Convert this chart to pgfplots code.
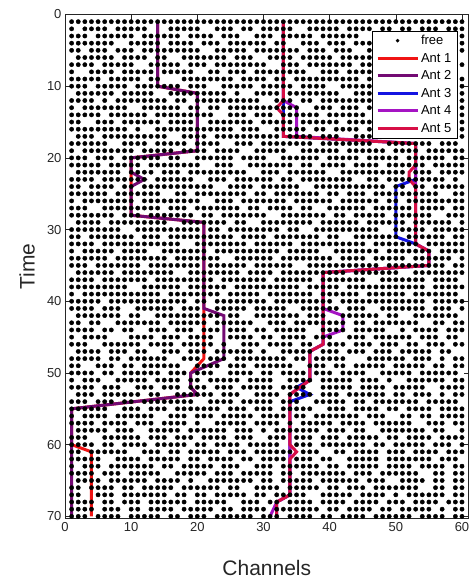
\documentclass[border=0pt]{standalone}
\usepackage{pgfplots}
\usepackage{pgfplotstable}
\pgfplotsset{compat=1.18}
\usepackage{fontspec}
\setmainfont{Liberation Sans}
\definecolor{axgray}{rgb}{0.15,0.15,0.15}
\definecolor{antA}{RGB}{240,20,20}
\definecolor{antB}{RGB}{115,10,115}
\definecolor{antC}{RGB}{20,20,225}
\definecolor{antD}{RGB}{165,20,195}
\definecolor{antE}{RGB}{215,15,70}
\pgfplotstableread{
t c1 c2 c3 c4 c5 c6 c7 c8 c9 c10 c11 c12 c13 c14 c15 c16 c17 c18 c19 c20 c21 c22 c23 c24 c25 c26 c27 c28 c29 c30 c31 c32 c33 c34 c35 c36 c37 c38 c39 c40 c41 c42 c43 c44 c45 c46 c47 c48 c49 c50 c51 c52 c53 c54 c55 c56 c57 c58 c59 c60
1 1 1 1 1 1 1 1 1 1 1 1 1 1 1 1 1 1 1 1 1 1 1 1 1 1 1 1 1 1 1 1 1 1 1 1 1 1 1 1 1 1 1 1 1 1 1 1 1 1 1 1 1 1 1 1 1 1 1 1 1
2 1 0 1 1 1 1 0 1 1 1 1 1 0 0 0 1 1 1 1 1 0 0 1 1 1 0 1 1 0 1 1 1 1 1 0 0 1 1 1 1 1 0 1 1 1 1 0 1 1 0 1 1 0 1 1 1 0 1 1 1
3 1 1 1 0 1 1 1 1 1 1 0 1 1 1 1 1 1 0 1 1 1 1 0 1 1 1 0 0 1 1 1 0 1 1 1 1 1 0 1 1 1 1 1 1 0 0 1 1 0 1 1 1 1 0 1 1 1 0 1 1
4 1 1 1 1 1 1 1 0 0 1 1 1 1 1 0 1 1 1 1 0 1 1 1 0 1 1 1 1 1 1 0 1 1 0 0 1 1 1 0 1 1 1 0 1 1 1 1 1 1 1 0 0 1 1 1 1 1 1 0 1
5 1 1 0 1 1 1 0 1 1 1 0 1 1 1 1 1 1 1 1 1 0 0 1 1 1 1 1 0 1 1 1 1 1 1 1 0 1 1 1 0 1 1 1 0 0 1 1 1 1 1 1 0 1 1 1 0 1 1 1 1
6 0 1 1 1 1 1 1 0 1 1 1 1 0 1 1 0 0 1 1 1 1 1 1 1 0 1 1 1 0 0 1 1 1 1 0 1 1 1 1 1 0 1 1 1 1 1 1 0 1 0 0 1 1 1 1 1 1 1 1 0
7 1 1 1 1 0 1 1 1 1 1 0 0 1 1 1 1 1 0 1 1 1 0 1 1 1 1 1 1 1 1 0 0 1 1 1 0 1 1 1 1 1 1 1 0 1 1 1 0 1 1 1 1 1 1 0 1 1 0 1 1
8 1 0 0 1 1 1 1 0 1 1 1 1 1 0 1 1 1 1 1 0 0 1 1 0 1 1 1 0 1 1 1 1 1 1 1 1 0 0 1 1 1 0 1 1 1 1 1 1 1 0 1 1 0 1 1 1 1 1 1 0
9 1 1 1 1 1 0 1 1 1 1 1 0 1 1 0 0 0 1 1 1 1 1 1 1 1 0 1 1 1 1 0 1 1 0 1 1 1 1 1 1 1 1 1 1 0 1 1 0 0 1 1 1 1 1 0 1 1 1 1 1
10 1 1 1 0 1 1 1 1 1 0 1 1 1 1 1 1 1 0 1 1 1 0 0 1 1 1 1 1 0 1 1 1 1 1 0 1 1 1 1 0 0 1 1 1 1 1 1 0 1 1 1 0 1 1 1 1 1 0 0 1
11 0 1 1 1 1 1 1 0 1 1 1 1 1 0 0 1 1 1 1 1 1 1 1 1 0 1 0 0 1 1 1 1 0 1 1 1 1 1 1 1 1 0 0 1 1 1 0 1 1 1 1 1 1 1 1 0 1 1 1 1
12 1 1 1 1 0 1 0 1 1 1 1 1 1 1 1 0 1 1 0 1 1 1 1 1 1 1 1 1 1 0 0 1 1 1 0 1 1 0 1 1 1 1 1 1 1 1 1 0 1 1 1 0 0 1 1 1 1 0 1 1
13 1 0 1 1 1 1 1 1 1 0 0 1 1 1 1 1 1 0 1 1 0 1 1 0 1 1 1 1 1 1 1 1 1 1 1 0 0 1 1 1 0 1 1 1 0 1 1 1 1 1 1 1 1 1 0 1 1 1 1 1
14 1 1 1 1 1 0 1 1 1 1 1 1 0 1 1 1 1 1 1 1 1 1 0 0 1 1 1 0 1 1 1 0 1 1 1 1 1 1 0 1 1 1 1 1 1 0 1 1 0 1 1 1 1 1 1 1 0 1 1 1
15 1 1 0 0 1 1 1 0 1 1 1 1 1 1 0 1 1 1 1 0 0 1 1 1 1 1 1 1 0 1 1 1 1 1 0 1 1 1 1 1 1 0 1 1 1 1 1 1 1 1 0 1 1 0 1 1 1 1 0 1
16 1 1 1 1 1 1 1 1 1 0 1 0 0 1 1 1 1 1 1 1 1 1 1 1 1 0 1 1 1 0 0 1 1 1 1 1 0 1 1 0 1 1 1 1 0 1 1 1 0 0 1 1 1 1 1 1 1 0 1 1
17 0 1 1 1 0 1 1 1 1 1 1 1 1 1 1 0 0 1 1 1 1 0 1 1 1 1 1 1 1 1 1 1 0 1 1 1 1 0 1 1 1 0 0 1 1 1 1 1 1 1 1 1 0 1 0 1 1 1 1 1
18 1 1 1 1 1 1 0 0 1 1 1 1 0 1 1 1 1 1 0 1 1 1 1 0 0 1 1 1 0 1 1 1 1 1 1 1 1 0 1 1 1 1 1 1 1 1 0 0 1 1 1 1 1 1 1 0 1 1 1 0
19 1 0 1 1 1 1 1 1 1 1 0 1 1 1 1 1 0 1 1 1 1 0 1 1 1 1 0 0 1 1 1 1 1 0 0 1 1 1 1 1 1 0 1 1 1 1 1 1 0 1 1 1 1 0 1 1 1 1 1 1
20 1 1 1 0 1 1 1 0 1 1 1 1 1 1 0 1 1 0 0 1 1 1 1 1 1 0 1 1 1 1 0 0 1 1 1 1 1 1 0 1 1 1 1 1 0 1 1 1 1 1 0 1 1 1 1 1 1 0 1 1
21 1 1 1 1 1 0 1 1 1 1 1 0 1 1 1 1 1 1 1 1 0 0 1 1 1 0 0 1 1 1 1 1 1 1 0 1 1 0 1 1 1 1 0 1 1 1 1 0 1 1 1 1 1 1 0 1 1 1 1 1
22 0 1 1 1 1 1 1 1 0 1 1 1 1 0 1 1 1 0 1 1 1 1 1 1 1 1 1 0 0 1 1 1 0 1 1 1 1 1 1 0 0 1 1 1 1 1 1 1 1 1 1 0 1 1 1 0 1 1 1 1
23 1 1 1 1 0 1 1 1 1 1 1 1 0 1 1 1 1 1 1 0 0 1 1 1 0 1 1 1 1 1 1 0 1 1 0 1 1 1 1 1 1 1 1 0 0 1 1 0 1 1 1 1 1 1 1 1 1 0 1 0
24 1 1 0 1 1 1 1 0 1 1 0 1 1 1 1 1 1 1 1 1 1 1 0 0 1 1 1 1 0 1 1 1 1 1 1 0 0 1 1 1 1 1 1 1 1 1 1 1 0 1 1 0 1 1 0 1 1 1 1 1
25 1 1 1 1 1 1 0 1 1 1 1 1 1 1 0 0 1 1 0 1 1 1 1 1 1 1 1 0 1 1 0 1 1 1 1 1 1 1 0 1 1 0 1 1 1 0 1 1 1 1 1 1 1 1 1 1 0 0 1 1
26 1 0 1 1 1 1 1 1 1 1 0 1 1 1 1 1 1 1 1 1 0 0 1 1 1 0 1 1 1 1 1 1 1 0 1 1 1 1 1 1 0 1 1 1 1 1 1 0 1 1 0 1 1 1 1 1 1 1 1 1
27 1 1 1 0 0 1 1 1 1 1 1 1 1 1 0 1 1 1 0 1 1 1 1 1 1 1 0 1 1 0 1 1 1 1 0 1 1 0 0 1 1 1 1 1 1 0 1 1 1 1 1 1 0 1 1 1 1 0 1 1
28 1 1 1 1 1 1 1 0 1 1 1 0 1 1 1 1 1 1 1 0 1 1 0 1 1 1 1 1 1 1 0 0 1 1 1 1 1 1 1 0 1 1 0 1 1 1 1 1 0 1 1 1 1 1 1 0 0 1 1 1
29 0 1 1 1 1 0 1 1 1 1 1 1 1 1 1 0 0 1 1 1 1 1 1 1 0 1 1 0 0 1 1 1 1 1 1 1 1 0 1 1 1 1 1 1 0 1 1 1 1 1 1 0 1 1 1 1 1 1 0 1
30 1 1 1 1 1 1 1 1 0 0 1 1 1 1 1 1 1 1 1 1 0 1 1 0 1 1 1 1 1 1 1 1 0 1 1 0 0 1 1 1 1 1 1 1 1 1 1 0 0 1 1 1 1 1 0 1 1 1 1 1
31 1 1 0 1 1 1 1 1 1 1 0 1 1 1 0 1 1 1 1 1 1 1 1 1 1 0 1 1 1 1 0 1 1 1 1 1 1 1 0 1 1 0 0 1 1 1 1 1 1 1 0 1 1 1 1 1 1 0 1 1
32 1 1 1 1 0 1 1 1 1 1 1 1 1 1 1 1 1 0 0 1 1 1 1 1 1 1 1 0 1 1 1 1 1 1 0 1 1 1 1 1 1 1 1 1 1 0 1 1 1 1 1 1 1 0 1 1 1 1 1 1
33 1 0 1 1 1 1 1 0 1 1 1 1 0 0 1 1 1 1 1 1 1 0 1 1 1 1 1 1 1 1 1 1 0 1 1 1 1 1 0 0 1 1 1 1 1 1 1 0 1 1 1 1 1 1 1 0 1 1 1 1
34 1 1 1 1 1 1 0 1 1 1 1 1 1 1 1 0 1 1 1 1 1 1 1 0 0 1 1 1 1 1 1 0 1 1 1 1 1 1 1 1 0 1 1 1 1 0 1 1 1 1 1 0 1 1 1 1 1 1 0 1
35 1 1 1 0 1 1 1 1 1 1 1 0 1 1 1 1 1 1 1 1 0 1 1 1 1 1 1 0 1 1 1 1 1 1 0 0 1 1 1 1 1 1 1 1 1 1 1 0 1 1 1 1 1 1 1 1 1 0 1 1
36 0 1 1 1 1 1 1 0 1 1 1 1 1 1 1 1 0 0 1 1 1 1 1 1 1 1 0 1 1 1 1 0 1 1 1 1 1 1 1 1 1 1 0 1 1 1 1 1 1 1 0 0 1 1 1 1 1 1 1 1
37 1 1 1 1 0 1 1 1 1 1 1 1 0 1 1 1 1 1 1 1 1 1 0 1 1 1 1 1 1 1 0 1 1 1 1 1 1 0 1 1 1 1 1 1 1 0 0 1 1 1 1 1 1 1 0 1 1 1 1 0
38 1 1 1 1 1 1 1 1 1 0 0 1 1 1 1 1 1 0 1 1 1 1 1 1 0 1 1 1 1 1 1 1 1 1 1 0 1 1 1 1 1 0 1 1 1 1 1 1 1 1 1 1 1 1 0 1 1 1 1 1
39 1 0 1 1 1 1 1 1 1 1 1 1 1 1 0 1 1 1 1 1 1 1 1 0 1 1 1 1 1 0 1 1 1 1 1 1 1 0 1 1 1 1 1 1 0 1 1 1 1 1 1 0 1 1 1 1 1 1 1 0
40 1 1 1 1 1 0 1 1 1 1 1 1 1 1 1 1 1 1 0 1 1 0 1 1 1 1 1 1 1 1 0 1 1 1 1 1 1 1 1 1 0 1 1 1 1 1 1 1 1 1 1 1 1 1 0 1 1 1 1 1
41 1 1 1 1 0 1 1 1 0 0 1 1 1 1 1 1 0 1 1 1 0 0 1 1 1 1 1 0 1 1 1 1 1 0 0 1 1 1 1 1 1 0 1 1 1 0 0 1 1 1 1 1 1 1 0 1 1 1 0 1
42 0 1 1 1 1 1 1 1 0 1 1 0 0 1 1 1 1 1 1 1 1 1 1 0 1 1 0 0 1 1 1 1 1 1 1 0 1 1 1 0 0 1 1 1 1 1 1 0 1 1 0 0 1 1 1 1 1 1 1 0
43 1 1 0 1 1 0 0 1 1 1 1 1 1 1 0 1 1 1 1 1 1 0 1 1 1 1 1 1 0 0 1 1 1 0 1 1 1 1 1 1 1 1 0 1 1 0 1 1 1 1 1 1 1 0 0 1 1 0 1 1
44 1 1 1 1 0 1 1 0 1 1 0 0 1 1 1 0 1 1 1 0 1 1 1 0 1 1 1 0 1 1 0 1 1 1 1 1 0 0 1 1 1 1 0 1 1 1 1 1 0 0 1 0 1 1 1 1 0 1 1 1
45 1 0 1 1 1 1 0 0 0 1 1 1 1 0 1 1 1 0 1 1 1 1 0 0 1 1 1 1 0 1 1 0 1 1 1 1 0 1 1 1 0 0 1 1 1 0 1 1 1 1 1 1 0 1 1 1 0 1 1 0
46 1 1 1 0 0 1 1 1 1 1 1 0 1 1 1 1 0 1 1 1 1 1 0 1 0 0 1 1 1 0 1 1 1 1 0 1 1 0 0 1 1 1 0 1 1 1 0 1 1 1 0 1 1 0 1 1 1 0 1 1
47 0 1 1 1 1 0 1 1 1 0 1 1 0 0 1 1 1 0 1 1 1 0 1 1 1 1 1 1 0 1 0 0 1 1 1 1 1 0 1 1 1 0 1 1 1 0 1 1 1 0 1 1 1 1 1 0 1 1 0 0
48 1 1 1 1 1 0 1 1 0 1 1 1 1 1 1 0 0 1 1 1 0 1 1 1 0 1 1 1 1 1 1 1 1 0 1 1 0 1 1 1 1 1 0 0 0 1 1 1 1 1 1 0 1 1 1 0 1 0 1 1
49 1 1 0 0 1 1 1 0 1 1 0 1 1 1 1 1 1 0 0 1 1 1 1 0 1 1 1 0 1 1 1 1 1 1 0 0 1 1 1 0 1 1 0 1 1 1 1 1 0 1 1 1 1 1 0 1 1 0 1 1
50 1 1 1 1 0 1 1 0 1 1 1 1 1 1 0 1 1 1 0 1 1 1 0 0 1 1 1 1 0 1 1 0 1 1 1 1 0 1 1 1 0 1 1 1 1 0 0 1 1 1 1 1 0 1 1 1 1 1 1 0
51 1 0 1 1 1 0 0 1 1 1 1 1 0 1 1 1 1 0 1 1 0 1 1 1 1 1 0 1 1 1 1 0 0 1 1 1 1 0 1 1 1 1 1 0 1 1 1 0 1 0 0 1 1 1 1 1 1 0 1 1
52 1 1 1 1 0 1 1 1 0 0 1 1 1 0 1 1 1 0 1 1 1 0 1 1 1 0 1 1 1 1 1 0 1 1 1 1 0 0 1 1 1 1 1 0 1 1 1 1 0 1 1 1 1 1 0 0 1 1 1 1
53 0 1 1 1 0 1 1 1 1 1 1 0 1 1 0 0 1 1 1 1 1 1 0 1 1 1 0 0 1 1 1 1 0 1 1 1 1 0 1 1 1 0 1 1 1 1 1 1 0 1 1 0 1 1 1 0 1 0 1 1
54 1 1 1 0 1 1 1 0 1 1 0 1 1 1 1 1 1 1 1 0 0 1 1 1 1 0 1 1 1 1 1 0 1 1 1 0 0 1 1 1 1 1 0 1 1 0 1 1 1 1 1 1 1 0 1 1 1 1 1 0
55 1 1 1 1 1 1 0 0 1 1 1 0 1 1 1 0 1 1 1 1 1 1 1 0 1 1 1 0 1 1 1 0 1 1 1 1 1 0 0 1 1 1 0 1 1 1 1 0 1 1 0 1 1 1 1 0 1 1 1 1
56 1 0 1 1 1 1 0 1 1 1 1 1 1 0 0 1 1 1 0 1 1 1 0 1 1 1 1 1 0 1 1 1 1 0 1 1 0 1 1 1 1 1 1 1 0 1 1 1 0 0 1 1 0 1 1 0 1 1 1 1
57 1 1 1 1 0 1 1 1 1 0 1 1 1 0 1 1 1 1 0 1 0 0 1 1 1 1 1 0 1 1 1 1 0 1 0 1 1 1 1 1 0 1 1 1 1 0 1 1 1 1 1 1 0 0 1 1 1 0 1 1
58 0 1 1 1 1 1 0 1 1 1 0 0 1 1 1 1 1 0 1 1 1 1 1 1 0 1 1 1 0 1 0 1 1 1 1 1 1 1 0 1 1 1 0 1 1 0 0 1 1 1 1 1 1 1 0 1 1 0 0 1
59 1 1 1 0 0 1 1 1 1 1 1 0 1 1 1 0 1 1 1 0 1 1 1 1 0 1 1 1 0 0 1 1 1 0 1 1 1 0 1 1 1 0 1 1 1 1 1 0 1 1 0 1 1 1 1 0 1 1 1 1
60 1 1 1 1 0 1 1 0 1 1 1 1 0 1 1 1 1 1 0 1 1 0 1 1 1 1 0 1 1 1 1 1 0 0 1 1 1 0 1 1 1 1 1 1 1 0 1 1 0 1 1 1 1 1 0 1 1 1 0 1
61 1 1 0 1 1 1 1 1 1 0 0 1 1 1 0 1 1 0 1 1 1 1 1 0 1 1 1 0 1 1 1 1 1 1 0 1 1 1 0 0 1 1 0 1 1 1 1 0 1 1 1 0 1 1 1 1 0 1 1 1
62 1 1 1 1 1 0 0 1 1 1 1 0 1 1 1 1 1 0 1 1 0 1 1 1 1 0 1 1 0 1 1 1 1 0 1 1 1 0 1 1 0 0 1 1 1 1 1 0 1 1 1 1 1 1 1 0 1 1 1 0
63 1 0 1 1 1 0 1 1 1 1 1 1 1 0 1 1 0 1 1 1 1 1 0 1 1 1 0 0 1 1 1 0 1 1 1 1 1 1 0 1 1 0 1 1 1 1 1 0 1 1 1 1 0 1 1 1 1 0 1 1
64 1 1 1 1 0 1 1 1 0 1 1 1 1 1 0 0 1 1 1 1 1 0 1 1 1 0 1 1 1 1 1 0 1 1 0 1 1 1 1 1 1 1 0 1 1 1 0 1 1 1 1 1 1 0 0 1 1 0 1 1
65 0 1 1 1 1 0 1 1 1 1 1 1 0 1 1 1 1 0 1 0 0 1 1 1 1 1 1 1 0 1 1 0 1 1 1 1 1 0 1 1 1 1 1 1 0 1 1 1 0 0 1 1 1 1 0 1 1 0 1 1
66 1 1 0 1 1 1 1 0 1 1 0 1 1 1 1 1 0 1 1 1 1 1 1 0 1 1 0 0 1 1 1 1 0 1 1 1 1 1 0 1 1 0 1 1 1 0 1 1 1 1 1 1 1 0 0 1 1 0 1 1
67 1 1 0 0 1 1 1 0 1 1 1 1 1 1 1 0 1 1 0 1 1 0 1 1 1 1 1 0 1 1 0 1 1 1 1 1 0 0 1 1 1 1 1 0 1 1 1 1 0 1 0 1 1 1 1 1 1 0 1 1
68 1 1 1 1 0 1 1 0 1 1 1 0 1 1 1 1 1 1 0 1 1 1 1 1 0 0 1 1 1 0 1 1 0 1 1 1 1 0 1 1 1 1 0 1 1 1 1 0 1 1 1 0 1 1 1 1 0 1 1 1
69 1 1 1 1 0 1 1 1 0 1 1 0 1 1 1 1 0 1 1 1 1 1 0 1 1 0 1 1 1 1 0 1 1 1 1 1 1 1 0 1 1 0 1 1 1 1 0 1 1 0 1 1 1 1 1 0 1 0 1 1
70 1 1 1 0 1 1 1 1 0 1 1 1 1 1 0 1 1 0 1 1 1 0 1 1 1 1 1 1 0 1 1 1 0 1 1 1 1 0 1 1 0 1 1 1 1 0 1 1 1 1 1 1 0 1 1 1 1 0 1 1
}\freetab
\begin{document}
\begin{tikzpicture}
\begin{axis}[
  name=ax,
  width=403.6pt, height=504pt, scale only axis,
  xmin=0, xmax=61, ymin=0, ymax=70.3,
  y dir=reverse,
  xtick={0,10,...,60}, ytick={0,10,...,70},
  tick align=inside,
  major tick length=5pt,
  axis line style={axgray, line width=0.6pt},
  tick style={axgray, line width=0.6pt},
  ticklabel style={font=\fontsize{13}{15}\selectfont, text=axgray},
  /pgf/number format/assume math mode=true,
  xlabel={Channels}, ylabel={Time},
  label style={font=\fontsize{21}{24}\selectfont, text=axgray},
  xlabel style={at={(axis description cs:0.5,0)}, anchor=center, yshift=-49pt},
  ylabel style={at={(axis description cs:0,0.5)}, anchor=center, rotate=0, yshift=38pt},
  legend style={at={(1,1)}, anchor=north east, xshift=-11pt, yshift=-16pt,
    font=\fontsize{13}{15}\selectfont, draw=black, fill=white,
    inner xsep=4pt, inner ysep=2.5pt, row sep=3pt, cells={anchor=west}},
  legend image code/.code={\draw[mark repeat=2,mark phase=2,#1] plot coordinates {(0pt,0pt) (20pt,0pt) (40pt,0pt)};},
]
\addlegendimage{only marks, mark=*, mark size=1.6pt, black}
\addlegendentry{free}
\pgfplotsinvokeforeach{1,...,60}{
  \addplot[only marks, mark=*, mark size=2.15pt, black, forget plot]
    table[x expr=#1, y=t, restrict expr to domain={\thisrow{c#1}}{0.5:1.5}] {\freetab};
}
\addplot[antA, line width=3pt] coordinates {(14,1)(14,10)(20,11)(20,19)(10,20)(10,28)(21,29)(21,48)(19,50)(19,52)(20,53)(1,55)(1,60)(4,61)(4,70)};
\addlegendentry{Ant 1}
\addplot[antB, line width=3pt] coordinates {(14,1)(14,10)(20,11)(20,19)(10,20)(10,22)(12,23)(10,24)(10,28)(21,29)(21,41)(24,42)(24,48)(19,50)(19,52)(20,53)(1,55)(1,70)};
\addlegendentry{Ant 2}
\addplot[antC, line width=3pt] coordinates {(33,1)(33,17)(53,18)(53,23)(50,24)(50,31)(53,32)(55,33)(55,35)(39,36)(39,46)(37,47)(37,51)(35,52)(37,53)(34,54)(34,67)(32,68)(32,70)};
\addlegendentry{Ant 3}
\addplot[antD, line width=3pt] coordinates {(33,1)(33,12)(35,13)(35,17)(53,18)(53,32)(55,33)(55,35)(39,36)(39,41)(42,42)(42,44)(39,45)(39,46)(37,47)(37,51)(34,53)(34,67)(32,68)(31,70)};
\addlegendentry{Ant 4}
\addplot[antE, line width=3pt] coordinates {(33,1)(33,12)(32,13)(33,14)(33,17)(53,18)(53,21)(52,22)(52,23)(53,24)(53,32)(55,33)(55,35)(39,36)(39,46)(37,47)(37,51)(34,53)(34,60)(35,61)(34,62)(34,67)(32,68)(32,70)};
\addlegendentry{Ant 5}
\end{axis}
\pgfresetboundingbox
\path ([xshift=-65pt,yshift=-63.5pt]ax.south west) rectangle ([xshift=1.4pt,yshift=14.5pt]ax.north east);
\end{tikzpicture}
\end{document}
